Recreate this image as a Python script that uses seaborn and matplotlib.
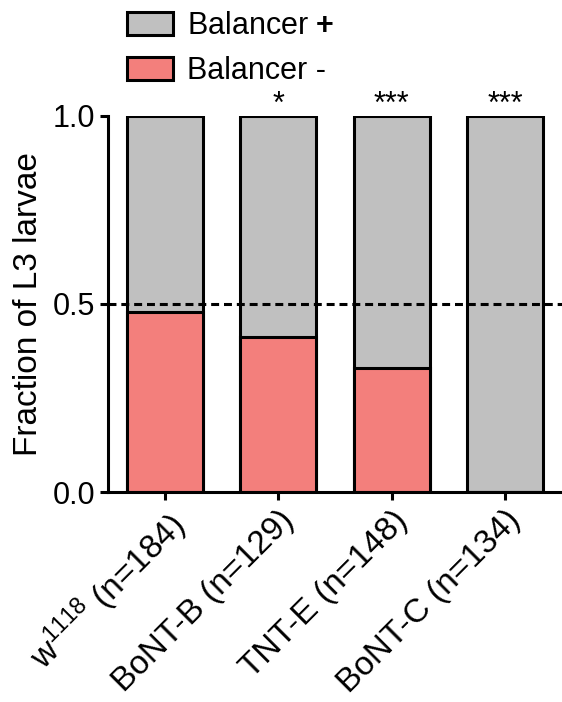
import numpy as np
import pandas as pd
import seaborn as sns
import matplotlib.pyplot as plt
import matplotlib.transforms as mtransforms
from matplotlib.patches import Patch

# data
genotipos = ['w$^{1118}$ (n=184)', 'BoNT-B (n=129)', 'TNT-E (n=148)', 'BoNT-C (n=134)']
frac_balancer_menos = [0.478, 0.411, 0.331, 0.0]
frac_total = [1.0, 1.0, 1.0, 1.0]
estrellas = ['', '*', '***', '***']

gris = '#C0C0C0'
rojo = '#F37F7C'

sns.set_style('ticks')
plt.rcParams['font.family'] = ['Liberation Sans', 'DejaVu Sans']
plt.rcParams['mathtext.fontset'] = 'custom'
plt.rcParams['mathtext.rm'] = 'Liberation Sans'
plt.rcParams['mathtext.bf'] = 'Liberation Sans:bold'
plt.rcParams['text.color'] = 'black'
plt.rcParams['axes.labelcolor'] = 'black'
plt.rcParams['xtick.color'] = 'black'
plt.rcParams['ytick.color'] = 'black'
plt.rcParams['axes.edgecolor'] = 'black'

df = pd.DataFrame({'genotipo': genotipos, 'total': frac_total, 'menos': frac_balancer_menos})

fig = plt.figure(figsize=(5.62, 7.02), dpi=100)
ax = fig.add_axes([0.192, 0.299, 0.808, 0.536])

sns.barplot(data=df, x='genotipo', y='total', color=gris, width=0.67,
            edgecolor='black', linewidth=2.2, saturation=1, ax=ax)
sns.barplot(data=df, x='genotipo', y='menos', color=rojo, width=0.67,
            edgecolor='black', linewidth=2.2, saturation=1, ax=ax)

ax.axhline(0.5, color='black', ls=(0, (2.6, 1.6)), lw=2.2, zorder=5)

for i, s in enumerate(estrellas):
    if s:
        ax.text(i, 1.03, s, ha='center', va='center', fontsize=22)

ax.set_xlim(-0.5, 3.5)
ax.set_ylim(0, 1)
ax.set_yticks([0, 0.5, 1.0])
ax.set_yticklabels(['0.0', '0.5', '1.0'], fontsize=22)
ax.set_xticks(range(len(genotipos)))
ax.set_xticklabels(genotipos, fontsize=24, rotation=45, ha='right', rotation_mode='anchor')
desplazar = mtransforms.ScaledTranslation(-10 / 100, -4 / 100, fig.dpi_scale_trans)
for lab in ax.get_xticklabels():
    lab.set_transform(lab.get_transform() + desplazar)
ax.set_xlabel('')
ax.set_ylabel('Fraction of L3 larvae', fontsize=24, labelpad=6)
ax.tick_params(width=2.2, length=6, direction='out', pad=3)
for lado in ['left', 'bottom']:
    ax.spines[lado].set_linewidth(2.2)
sns.despine(ax=ax)

handles = [Patch(facecolor=gris, edgecolor='black', linewidth=2.2),
           Patch(facecolor=rojo, edgecolor='black', linewidth=2.2)]
fig.legend(handles, ['Balancer $\\mathbf{+}$', 'Balancer -'], loc='upper left',
           bbox_to_anchor=(0.226, 0.984), frameon=False, fontsize=22,
           borderpad=0, borderaxespad=0,
           handlelength=1.5, handleheight=0.75, handletextpad=0.46, labelspacing=0.49)

fig.savefig('out.png', dpi=100)
